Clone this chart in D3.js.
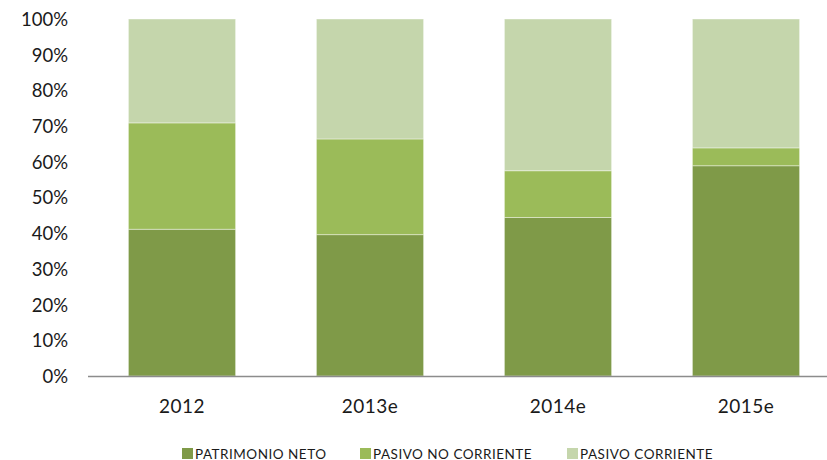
<!DOCTYPE html>
<html>
<head>
<meta charset="utf-8">
<script src="https://cdn.jsdelivr.net/npm/d3@7"></script>
<style>
  body { margin: 0; background: #fff; }
  svg text { font-family: Lato, "Open Sans", sans-serif; fill: #1a1a1a; }
</style>
</head>
<body>
<div class="container"></div>
<script>
// Chart data
const years = ['2012', '2013e', '2014e', '2015e']
const patrimonioNeto = [41.1, 39.6, 44.4, 58.9]
const pasivoNoCorriente = [29.8, 26.8, 13.1, 5.0]
const pasivoCorriente = [29.1, 33.6, 42.5, 36.1]
const seriesNames = ['PATRIMONIO NETO', 'PASIVO NO CORRIENTE', 'PASIVO CORRIENTE']
const yTicks = [0, 10, 20, 30, 40, 50, 60, 70, 80, 90, 100]

const colors = ['#7f9a48', '#9bbb59', '#c5d6ac']

const width = 827
const height = 460

const svg = d3.select('.container')
    .append('svg')
    .attr('width', width)
    .attr('height', height)

// build rows for the stack
const rows = years.map((y, i) => ({
    year: y,
    pn: patrimonioNeto[i],
    pnc: pasivoNoCorriente[i],
    pc: pasivoCorriente[i]
}))
const keys = ['pn', 'pnc', 'pc']
const stacked = d3.stack().keys(keys)(rows)

// Scales
const xScale = d3.scaleBand()
    .domain(years)
    .range([88, 840])
    .paddingInner(0.43)
    .paddingOuter(0.215)

const yScale = d3.scaleLinear()
    .domain([0, 100])
    .range([376, 19])

// Y axis (labels only)
const yAxis = svg.append('g')
    .attr('transform', 'translate(68,0)')
    .call(d3.axisLeft(yScale).tickValues(yTicks).tickSize(0).tickPadding(0).tickFormat(d => d + '%'))
yAxis.select('.domain').remove()
yAxis.selectAll('text')
    .style('font-size', '18.5px')
    .attr('dy', '0.35em')

// Bars
svg.append('g')
    .selectAll('g')
    .data(stacked)
    .enter()
    .append('g')
    .style('fill', (d, i) => colors[i])
    .selectAll('rect')
    .data(d => d)
    .enter()
    .append('rect')
        .attr('x', d => xScale(d.data.year))
        .attr('y', d => yScale(d[1]))
        .attr('width', xScale.bandwidth())
        .attr('height', d => yScale(d[0]) - yScale(d[1]))
        .style('stroke', '#ffffff')
        .style('stroke-opacity', 0.4)
        .style('stroke-width', 1)

// X axis line
svg.append('line')
    .attr('x1', 88)
    .attr('x2', 827)
    .attr('y1', yScale(0) + 0.5)
    .attr('y2', yScale(0) + 0.5)
    .style('stroke', '#8c8c8c')
    .style('stroke-width', 1.5)

// X labels
const xAxis = svg.append('g')
    .attr('transform', `translate(0, ${yScale(0)})`)
    .call(d3.axisBottom(xScale).tickSize(0).tickPadding(24))
xAxis.select('.domain').remove()
xAxis.selectAll('text')
    .style('font-size', '19px')
    .style('letter-spacing', '0.5px')

// Legend
const legendX = [182, 360, 567]
const legend = svg.append('g')
    .selectAll('g')
    .data(seriesNames)
    .enter()
    .append('g')
    .attr('transform', (d, i) => `translate(${legendX[i]}, 448)`)
legend.append('rect')
    .attr('width', 11)
    .attr('height', 11)
    .style('fill', (d, i) => colors[i])
legend.append('text')
    .attr('x', 13)
    .attr('y', 10.5)
    .style('font-size', '13.5px')
    .style('letter-spacing', '0.5px')
    .text(d => d)
</script>
</body>
</html>
